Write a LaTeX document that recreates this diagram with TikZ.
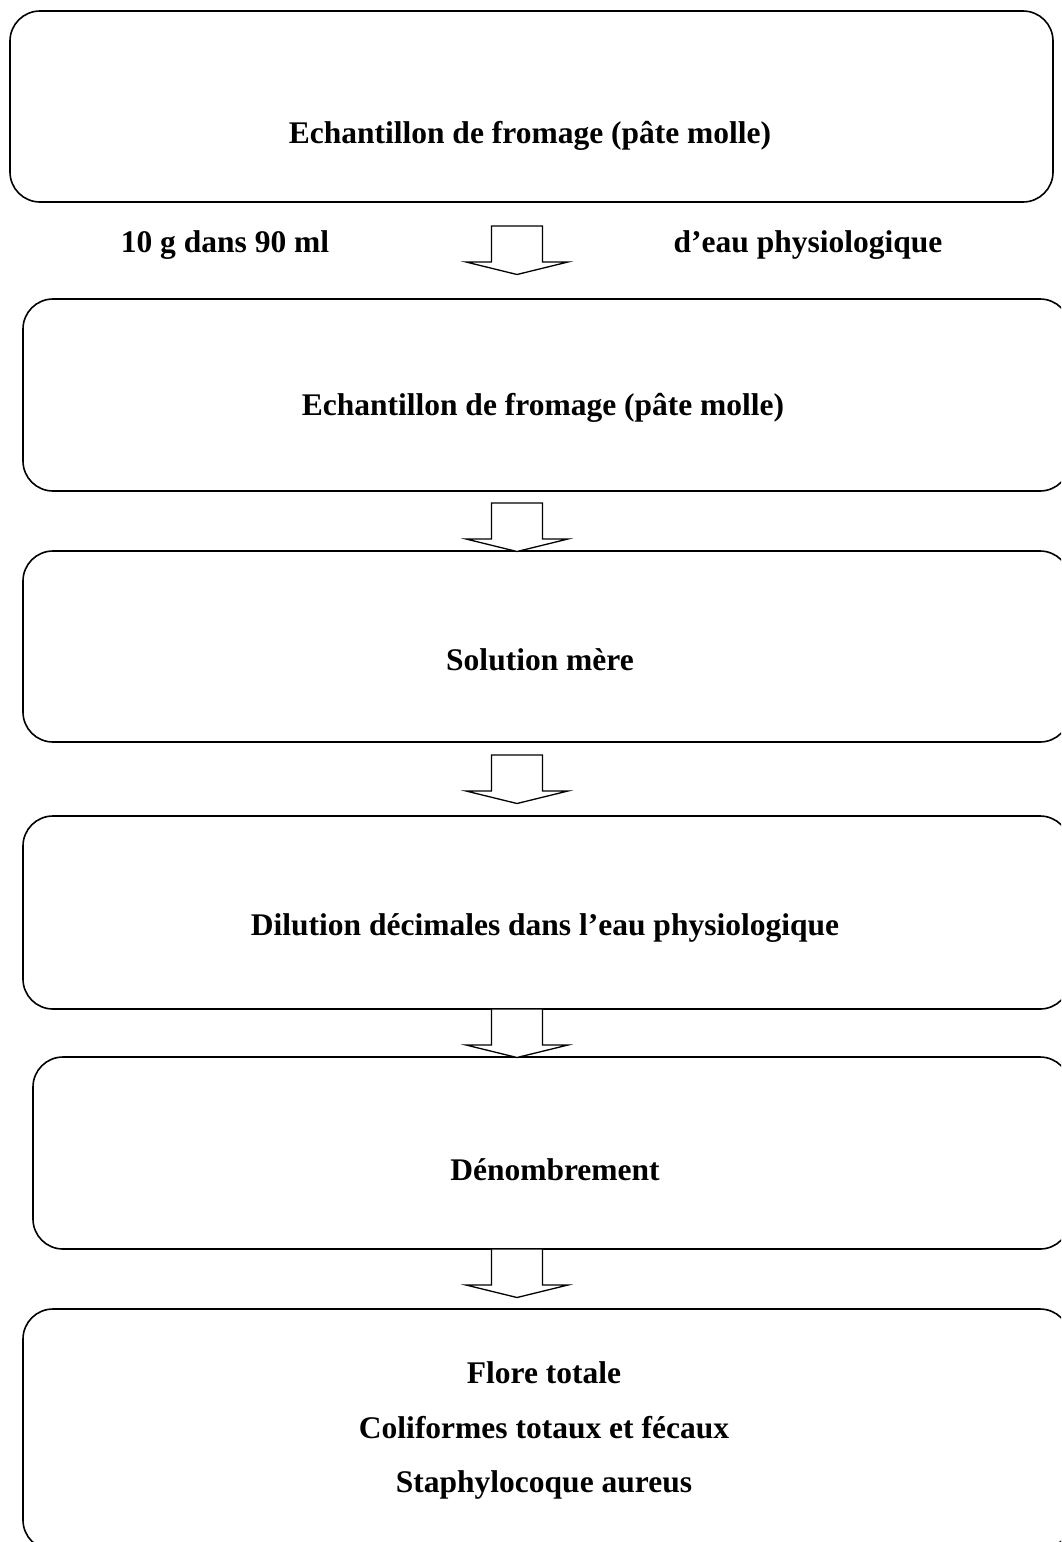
\documentclass[tikz,border=0pt]{standalone}
\usepackage{fontspec}
\setmainfont{Liberation Serif}
\begin{document}
\begin{tikzpicture}[x=1pt,y=-1pt,
  box/.style={draw, line width=1.6pt, rounded corners=30pt, inner sep=0pt},
  txt/.style={font=\fontsize{31.5}{36}\selectfont\bfseries, inner sep=0pt},
  blk/.style={draw, line width=1.3pt, fill=white, line join=miter}]
\useasboundingbox (0,0) rectangle (1061,1542);
\clip (0,0) rectangle (1061,1542);
% boxes
\node[box, minimum width=1043pt, minimum height=191pt] (b1) at (531.5,106.5) {};
\node[box, minimum width=1047pt, minimum height=192pt] (b2) at (546.5,395) {};
\node[box, minimum width=1047pt, minimum height=191pt] (b3) at (546.5,646.5) {};
\node[box, minimum width=1047pt, minimum height=193pt] (b4) at (546.5,912.5) {};
\node[box, minimum width=1037pt, minimum height=192pt] (b5) at (551.5,1153) {};
\node[box, minimum width=1047pt, minimum height=241pt] (b6) at (546.5,1429.5) {};
% texts
\node[txt] (t1) at (530,136) {Echantillon de fromage (pâte molle)};
\node[txt] (l1) at (225,245) {10 g dans 90 ml};
\node[txt] (l2) at (808,245) {d’eau physiologique};
\node[txt] (t2) at (543,408) {Echantillon de fromage (pâte molle)};
\node[txt] (t3) at (540,660) {Solution mère};
\node[txt] (t4) at (545,928) {Dilution décimales dans l’eau physiologique};
\node[txt] (t5) at (555,1170) {Dénombrement};
\node[txt] (t6) at (544,1373) {Flore totale};
\node[txt] (t7) at (544,1428) {Coliformes totaux et fécaux};
\node[txt] (t8) at (544,1485) {Staphylocoque aureus};
% block arrows
\coordinate (a1) at (517,226);
\coordinate (a2) at (517,503);
\coordinate (a3) at (517,755);
\coordinate (a4) at (517,1009);
\coordinate (a5) at (517,1249);
\foreach \a in {a1,a2,a3,a4,a5}{
  \draw[blk] ([xshift=-25.5pt]\a) -- ([xshift=25.5pt]\a) -- ([xshift=25.5pt,yshift=-36pt]\a)
    -- ([xshift=51pt,yshift=-36pt]\a) -- ([yshift=-48.5pt]\a) -- ([xshift=-51pt,yshift=-36pt]\a)
    -- ([xshift=-25.5pt,yshift=-36pt]\a) -- cycle;
}
\end{tikzpicture}
\end{document}
